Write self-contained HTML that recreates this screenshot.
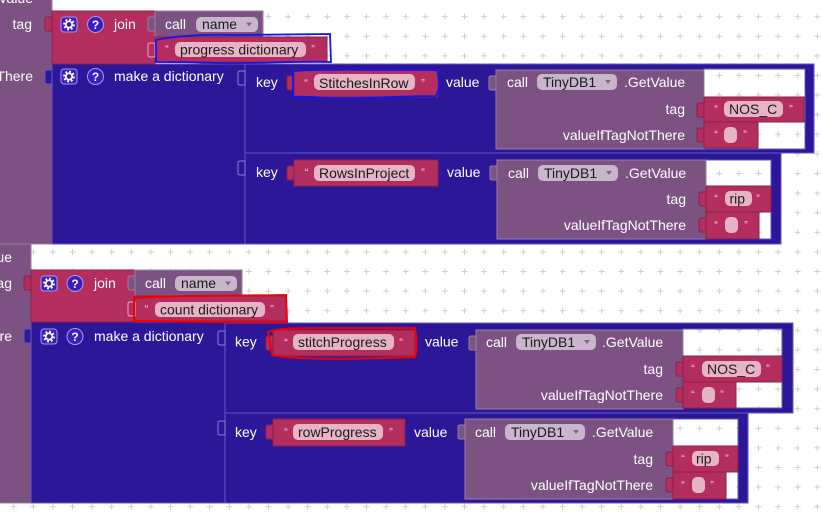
<!DOCTYPE html>
<html><head><meta charset="utf-8"><style>
html,body{margin:0;padding:0;background:#fff;width:822px;height:521px;overflow:hidden}
svg{display:block}
.P{fill:#7b5282;stroke:#9a7fa1;stroke-width:1}
.R{fill:#b32d5e;stroke:#8e2149;stroke-width:1}
.B{fill:#2d1799;stroke:#6557c4;stroke-width:1}
.Rs{fill:#b32d5e;stroke:#eaa9c0;stroke-width:1}
.Bs{fill:#2d1799;stroke:#8a7fd6;stroke-width:1}
.pp{fill:#e7b4c6}
.pd{fill:#c9b6cd}
.l{fill:#fff}
.d{fill:#1a1a1a}
.q{fill:#f4c9d7;font-size:11px}
.tri{fill:#85648c}
.ic{fill:#3b1cc0;stroke:#a79de6;stroke-width:1}
</style></head><body>
<svg width="822" height="521" viewBox="0 0 822 521" xmlns="http://www.w3.org/2000/svg" font-family="'Liberation Sans', Arial, sans-serif" font-size="14">
<defs>
<pattern id="g" x="23.5" y="6.9" width="19.6" height="19.6" patternUnits="userSpaceOnUse">
<rect width="19.6" height="19.6" fill="#fff"/>
<path d="M6.8,9.8h6M9.8,6.8v6" stroke="#cfcfcf" stroke-width="1"/>
</pattern>
<g id="gear">
<rect class="ic" x="0" y="0" width="16" height="15" rx="3"/>
<circle cx="8" cy="7.5" r="4.6" fill="none" stroke="#fff" stroke-width="2.6" stroke-dasharray="1.8 1.8"/>
<circle cx="8" cy="7.5" r="3.2" fill="none" stroke="#fff" stroke-width="1.7"/>
</g>
</defs>
<rect width="822" height="521" fill="url(#g)"/>

<!-- ================= TOP SECTION ================= -->
<rect class="P" x="-2" y="-5" width="54" height="249"/>
<text class="l" x="33" y="3" text-anchor="end">value</text>
<text class="l" x="32" y="29" text-anchor="end">tag</text>
<text class="l" x="33" y="81" text-anchor="end">There</text>

<rect class="B" x="52" y="64" width="194" height="180"/>
<rect class="B" x="245" y="64" width="569" height="89"/>
<rect fill="url(#g)" stroke="#6557c4" x="704" y="69" width="101" height="80"/>
<rect class="B" x="245" y="153" width="536" height="91"/>
<rect fill="url(#g)" stroke="#6557c4" x="706" y="160" width="65" height="79"/>

<!-- join -->
<rect class="R" x="52" y="11" width="103" height="53"/>
<path class="R" d="M52,17h-5q-2,0 -2,2v10q0,2 2,2h5z"/>
<use href="#gear" x="61" y="17"/>
<circle class="ic" cx="95.5" cy="24.5" r="8"/>
<text x="95.5" y="29" text-anchor="middle" font-size="12" font-weight="bold" fill="#fff">?</text>
<text class="l" x="114" y="29">join</text>

<rect class="P" x="155" y="11" width="108" height="26"/>
<path class="P" d="M155,17h-5q-2,0 -2,2v10q0,2 2,2h5z"/>
<text class="l" x="165" y="29">call</text>
<rect class="pd" x="196" y="17" width="62" height="15" rx="5"/>
<text class="d" x="202" y="29">name</text>
<polygon class="tri" points="246,22.5 252,22.5 249,26.5"/>

<rect class="R" x="155" y="37" width="172" height="25"/>
<path class="Rs" d="M155,43h-5q-2,0 -2,2v10q0,2 2,2h5z"/>
<text class="q" x="167" y="52.5" text-anchor="middle">“</text>
<rect class="pp" x="175" y="42" width="131" height="15" rx="5"/>
<text class="d" x="180" y="54.5">progress dictionary</text>
<text class="q" x="313" y="52.5" text-anchor="middle">”</text>

<!-- make a dictionary -->
<path class="B" d="M52,70h-5q-2,0 -2,2v10q0,2 2,2h5z"/>
<use href="#gear" x="61" y="69"/>
<circle class="ic" cx="95.5" cy="76.5" r="8"/>
<text x="95.5" y="81" text-anchor="middle" font-size="12" font-weight="bold" fill="#fff">?</text>
<text class="l" x="114" y="81">make a dictionary</text>

<!-- pair 1 -->
<path class="Bs" d="M245,71h-5q-2,0 -2,2v10q0,2 2,2h5z"/>
<text class="l" x="256" y="87">key</text>
<rect class="R" x="294" y="70" width="144" height="27"/>
<path class="R" d="M294,76h-5q-2,0 -2,2v10q0,2 2,2h5z"/>
<text class="q" x="306" y="86.5" text-anchor="middle">“</text>
<rect class="pp" x="314" y="74" width="101" height="16" rx="5"/>
<text class="d" x="319" y="88">StitchesInRow</text>
<text class="q" x="423" y="86.5" text-anchor="middle">”</text>
<text class="l" x="446" y="87">value</text>
<rect class="P" x="496" y="70" width="208" height="79"/>
<path class="P" d="M496,76h-5q-2,0 -2,2v10q0,2 2,2h5z"/>
<text class="l" x="507" y="87">call</text>
<rect class="pd" x="537" y="74" width="80" height="16" rx="5"/>
<text class="d" x="543" y="87">TinyDB1</text>
<polygon class="tri" points="605,80 611,80 608,84"/>
<text class="l" x="624" y="87">.GetValue</text>
<text class="l" x="685" y="114" text-anchor="end">tag</text>
<text class="l" x="685" y="140" text-anchor="end">valueIfTagNotThere</text>
<rect class="R" x="704" y="97" width="100" height="25"/>
<path class="R" d="M704,103h-5q-2,0 -2,2v10q0,2 2,2h5z"/>
<text class="q" x="716" y="112.5" text-anchor="middle">“</text>
<rect class="pp" x="724" y="101" width="59" height="16" rx="5"/>
<text class="d" x="729" y="114">NOS_C</text>
<text class="q" x="791" y="112.5" text-anchor="middle">”</text>
<rect class="R" x="704" y="122" width="54" height="26"/>
<path class="R" d="M704,128h-5q-2,0 -2,2v10q0,2 2,2h5z"/>
<text class="q" x="716" y="138" text-anchor="middle">“</text>
<rect class="pp" x="724" y="127" width="13" height="16" rx="5"/>
<text class="q" x="745" y="138" text-anchor="middle">”</text>

<!-- pair 2 -->
<path class="Bs" d="M245,161h-5q-2,0 -2,2v10q0,2 2,2h5z"/>
<text class="l" x="256" y="177">key</text>
<rect class="R" x="294" y="160" width="144" height="26"/>
<path class="R" d="M294,166h-5q-2,0 -2,2v10q0,2 2,2h5z"/>
<text class="q" x="306.5" y="176" text-anchor="middle">“</text>
<rect class="pp" x="314" y="165" width="101" height="16" rx="5"/>
<text class="d" x="319" y="178">RowsInProject</text>
<text class="q" x="423" y="176" text-anchor="middle">”</text>
<text class="l" x="447" y="177">value</text>
<rect class="P" x="497" y="160" width="209" height="79"/>
<path class="P" d="M497,166h-5q-2,0 -2,2v10q0,2 2,2h5z"/>
<text class="l" x="508" y="178">call</text>
<rect class="pd" x="538" y="165" width="80" height="16" rx="5"/>
<text class="d" x="544" y="178">TinyDB1</text>
<polygon class="tri" points="606,171 612,171 609,175"/>
<text class="l" x="625" y="178">.GetValue</text>
<text class="l" x="686" y="204" text-anchor="end">tag</text>
<text class="l" x="686" y="230" text-anchor="end">valueIfTagNotThere</text>
<rect class="R" x="706" y="186" width="65" height="26"/>
<path class="R" d="M706,192h-5q-2,0 -2,2v10q0,2 2,2h5z"/>
<text class="q" x="716" y="202" text-anchor="middle">“</text>
<rect class="pp" x="725" y="191" width="27" height="15" rx="5"/>
<text class="d" x="729.5" y="203.5">rip</text>
<text class="q" x="758" y="202" text-anchor="middle">”</text>
<rect class="R" x="706" y="212" width="53" height="27"/>
<path class="R" d="M706,218h-5q-2,0 -2,2v10q0,2 2,2h5z"/>
<text class="q" x="716" y="228.5" text-anchor="middle">“</text>
<rect class="pp" x="725" y="217" width="13" height="16" rx="5"/>
<text class="q" x="746" y="228.5" text-anchor="middle">”</text>

<!-- blue outlines -->
<path d="M156,40C175,36 200,34 235,35L330,34L331,62C290,61 250,64 215,63C190,62 170,62 156,62Z" fill="none" stroke="#1414f0" stroke-width="1.8"/>
<path d="M293,71C320,69 360,70 437,70C440,78 440,90 436,96C400,96 360,99 330,98C310,97 298,96 293,97Z" fill="none" stroke="#1414f0" stroke-width="1.8"/>

<!-- ================= BOTTOM SECTION ================= -->
<rect class="P" x="-2" y="244" width="33" height="259"/>
<text class="l" x="12" y="262" text-anchor="end">value</text>
<text class="l" x="12" y="288" text-anchor="end">tag</text>
<text class="l" x="12" y="341" text-anchor="end">There</text>

<rect class="B" x="31" y="322" width="195" height="181"/>
<rect class="B" x="225" y="323" width="568" height="90"/>
<rect fill="url(#g)" stroke="#6557c4" x="683" y="329" width="99" height="79"/>
<rect class="B" x="225" y="413" width="523" height="90"/>
<rect fill="url(#g)" stroke="#6557c4" x="673" y="419" width="65" height="80"/>

<!-- join -->
<rect class="R" x="31" y="270" width="104" height="52"/>
<path class="R" d="M31,276h-5q-2,0 -2,2v10q0,2 2,2h5z"/>
<use href="#gear" x="41" y="276"/>
<circle class="ic" cx="75" cy="283.5" r="8"/>
<text x="75" y="288" text-anchor="middle" font-size="12" font-weight="bold" fill="#fff">?</text>
<text class="l" x="94" y="288">join</text>

<rect class="P" x="135" y="270" width="107" height="26"/>
<path class="P" d="M135,276h-5q-2,0 -2,2v10q0,2 2,2h5z"/>
<text class="l" x="145" y="288">call</text>
<rect class="pd" x="175" y="276" width="62" height="15" rx="5"/>
<text class="d" x="181" y="288">name</text>
<polygon class="tri" points="225,281.5 231,281.5 228,285.5"/>

<rect class="R" x="135" y="296" width="151" height="25"/>
<path class="Rs" d="M135,302h-5q-2,0 -2,2v10q0,2 2,2h5z"/>
<text class="q" x="146.5" y="312.5" text-anchor="middle">“</text>
<rect class="pp" x="155" y="302" width="110" height="15" rx="5"/>
<text class="d" x="160" y="314.5">count dictionary</text>
<text class="q" x="272" y="312.5" text-anchor="middle">”</text>

<!-- make a dictionary -->
<path class="B" d="M31,329h-5q-2,0 -2,2v10q0,2 2,2h5z"/>
<use href="#gear" x="41" y="329"/>
<circle class="ic" cx="75" cy="336.5" r="8"/>
<text x="75" y="341" text-anchor="middle" font-size="12" font-weight="bold" fill="#fff">?</text>
<text class="l" x="94" y="341">make a dictionary</text>

<!-- pair 1b -->
<path class="Bs" d="M225,331h-5q-2,0 -2,2v10q0,2 2,2h5z"/>
<text class="l" x="235" y="346.5">key</text>
<rect class="R" x="273" y="330" width="142" height="26"/>
<path class="R" d="M273,336h-5q-2,0 -2,2v10q0,2 2,2h5z"/>
<text class="q" x="286" y="346" text-anchor="middle">“</text>
<rect class="pp" x="293" y="334" width="101" height="16" rx="5"/>
<text class="d" x="298" y="347">stitchProgress</text>
<text class="q" x="401" y="346" text-anchor="middle">”</text>
<text class="l" x="425" y="346.5">value</text>
<rect class="P" x="476" y="330" width="207" height="79"/>
<path class="P" d="M476,336h-5q-2,0 -2,2v10q0,2 2,2h5z"/>
<text class="l" x="486" y="347">call</text>
<rect class="pd" x="516" y="334" width="80" height="16" rx="5"/>
<text class="d" x="522" y="347">TinyDB1</text>
<polygon class="tri" points="584,340 590,340 587,344"/>
<text class="l" x="602" y="347">.GetValue</text>
<text class="l" x="663" y="374" text-anchor="end">tag</text>
<text class="l" x="663" y="400" text-anchor="end">valueIfTagNotThere</text>
<rect class="R" x="683" y="356" width="99" height="26"/>
<path class="R" d="M683,362h-5q-2,0 -2,2v10q0,2 2,2h5z"/>
<text class="q" x="693" y="372" text-anchor="middle">“</text>
<rect class="pp" x="702" y="361" width="59" height="16" rx="5"/>
<text class="d" x="707" y="374">NOS_C</text>
<text class="q" x="768" y="372" text-anchor="middle">”</text>
<rect class="R" x="683" y="382" width="53" height="26"/>
<path class="R" d="M683,388h-5q-2,0 -2,2v10q0,2 2,2h5z"/>
<text class="q" x="693" y="398" text-anchor="middle">“</text>
<rect class="pp" x="702" y="387" width="13" height="16" rx="5"/>
<text class="q" x="722" y="398" text-anchor="middle">”</text>

<!-- pair 2b -->
<path class="Bs" d="M225,421h-5q-2,0 -2,2v10q0,2 2,2h5z"/>
<text class="l" x="235" y="437">key</text>
<rect class="R" x="273" y="419" width="132" height="27"/>
<path class="R" d="M273,425h-5q-2,0 -2,2v10q0,2 2,2h5z"/>
<text class="q" x="286" y="435.5" text-anchor="middle">“</text>
<rect class="pp" x="293" y="424" width="90" height="16" rx="5"/>
<text class="d" x="298" y="437">rowProgress</text>
<text class="q" x="391" y="435.5" text-anchor="middle">”</text>
<text class="l" x="414" y="437">value</text>
<rect class="P" x="465" y="419" width="208" height="80"/>
<path class="P" d="M465,425h-5q-2,0 -2,2v10q0,2 2,2h5z"/>
<text class="l" x="475" y="437">call</text>
<rect class="pd" x="505" y="424" width="80" height="16" rx="5"/>
<text class="d" x="511" y="437">TinyDB1</text>
<polygon class="tri" points="573,430 579,430 576,434"/>
<text class="l" x="592" y="437">.GetValue</text>
<text class="l" x="653" y="464" text-anchor="end">tag</text>
<text class="l" x="653" y="490" text-anchor="end">valueIfTagNotThere</text>
<rect class="R" x="673" y="446" width="65" height="26"/>
<path class="R" d="M673,452h-5q-2,0 -2,2v10q0,2 2,2h5z"/>
<text class="q" x="683" y="462" text-anchor="middle">“</text>
<rect class="pp" x="692" y="451" width="27" height="15" rx="5"/>
<text class="d" x="696" y="463.5">rip</text>
<text class="q" x="727" y="462" text-anchor="middle">”</text>
<rect class="R" x="673" y="472" width="53" height="27"/>
<path class="R" d="M673,478h-5q-2,0 -2,2v10q0,2 2,2h5z"/>
<text class="q" x="683" y="488.5" text-anchor="middle">“</text>
<rect class="pp" x="692" y="477" width="13" height="16" rx="5"/>
<text class="q" x="712" y="488.5" text-anchor="middle">”</text>

<!-- red outlines -->
<path d="M134,298C180,295 240,296 286,295L287,322C240,323 180,321 134,321Z" fill="none" stroke="#f00000" stroke-width="2"/>
<path d="M268,332C280,328 300,328 330,328L415,328C417,340 417,350 415,357C380,358 340,360 300,358C285,357 276,356 272,355Z" fill="none" stroke="#f00000" stroke-width="2"/>
</svg>
</body></html>
